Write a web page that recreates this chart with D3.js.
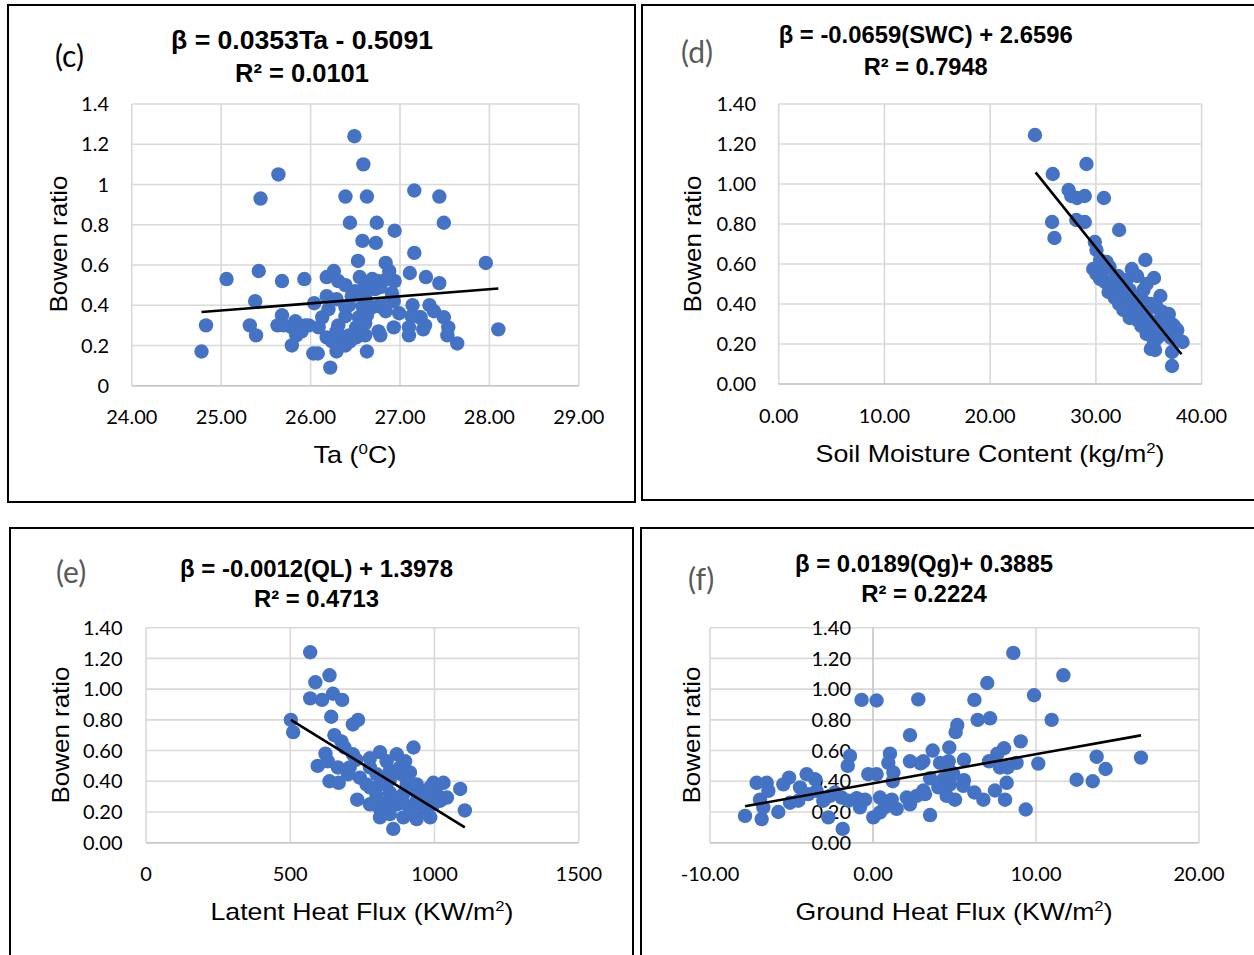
<!DOCTYPE html>
<html><head><meta charset="utf-8">
<script src="https://cdn.jsdelivr.net/npm/d3@7"></script>
<style>body{margin:0;background:#fff}svg{display:block}</style>
</head><body>
<svg id="chart" width="1254" height="955"></svg>
<script>
// ---------- data ----------
const bowenTicks = [0, 0.2, 0.4, 0.6, 0.8, 1.0, 1.2, 1.4];
const taTicks = [24, 25, 26, 27, 28, 29];
const swcTicks = [0, 10, 20, 30, 40];
const qlTicks = [0, 500, 1000, 1500];
const qgTicks = [-10, 0, 10, 20];

// (c) Ta vs Bowen ratio
const pointsTa = [[26.49,1.24],[26.59,1.10],[25.64,1.05],[25.44,0.93],[26.39,0.94],[26.63,0.94],[27.16,0.97],[27.44,0.94],[26.44,0.81],[26.74,0.81],[27.49,0.81],[26.94,0.77],[26.58,0.72],[26.73,0.71],[27.16,0.66],[27.96,0.61],[26.53,0.62],[25.06,0.53],[25.42,0.57],[25.68,0.52],[25.93,0.53],[26.18,0.54],[26.26,0.57],[26.31,0.52],[26.39,0.50],[26.55,0.54],[26.61,0.50],[26.75,0.52],[26.84,0.61],[26.88,0.57],[26.94,0.52],[27.11,0.56],[27.29,0.54],[27.44,0.51],[26.72,0.48],[26.91,0.46],[26.50,0.47],[26.46,0.445],[26.18,0.445],[26.04,0.41],[25.38,0.42],[26.93,0.42],[27.14,0.40],[27.33,0.40],[27.38,0.37],[26.58,0.395],[26.69,0.39],[26.84,0.37],[26.99,0.36],[27.22,0.34],[27.49,0.34],[26.39,0.345],[26.13,0.34],[25.83,0.32],[25.68,0.35],[25.63,0.30],[25.32,0.30],[25.39,0.25],[24.83,0.30],[24.78,0.17],[25.79,0.29],[25.98,0.30],[26.09,0.29],[25.84,0.25],[25.79,0.20],[26.03,0.16],[26.08,0.16],[26.22,0.09],[26.18,0.24],[26.29,0.17],[26.39,0.20],[26.43,0.25],[26.51,0.29],[26.61,0.25],[26.63,0.17],[26.76,0.27],[26.78,0.25],[26.93,0.29],[27.10,0.29],[27.10,0.25],[27.23,0.34],[27.26,0.28],[27.54,0.29],[27.53,0.25],[27.64,0.21],[28.10,0.28],[26.31,0.30],[26.35,0.24],[26.24,0.22],[26.44,0.22],[26.51,0.24],[26.63,0.35],[26.76,0.395],[26.29,0.43],[26.61,0.44],[26.84,0.40],[26.43,0.40],[26.20,0.38],[25.94,0.30],[25.70,0.30],[25.90,0.27],[26.29,0.27],[27.13,0.345],[27.28,0.30],[26.69,0.53],[26.78,0.49],[26.85,0.53],[26.39,0.39],[26.54,0.34],[26.61,0.31]];
const trendTa = [[24.78,0.366],[28.10,0.483]];

// (d) Soil moisture vs Bowen ratio
const pointsSwc = [[24.24,1.245],[25.92,1.05],[29.11,1.10],[27.42,0.97],[27.67,0.94],[28.22,0.93],[28.95,0.94],[30.76,0.93],[25.86,0.81],[26.08,0.73],[28.15,0.82],[28.95,0.81],[32.2,0.77],[29.9,0.71],[30.06,0.67],[34.68,0.62],[29.75,0.575],[30.06,0.55],[31.02,0.61],[30.7,0.57],[33.4,0.575],[33.9,0.54],[35.5,0.53],[32.1,0.54],[30.86,0.51],[31.34,0.48],[32.3,0.49],[36.1,0.44],[32.2,0.40],[32.8,0.44],[33.2,0.40],[33.9,0.38],[34.4,0.42],[34.8,0.375],[35.2,0.40],[35.8,0.38],[36.9,0.35],[34.2,0.33],[34.3,0.29],[35.0,0.32],[35.5,0.29],[36.1,0.325],[37.4,0.29],[37.7,0.27],[38.2,0.21],[35.2,0.175],[35.6,0.17],[37.2,0.16],[37.2,0.09],[35.8,0.23],[36.4,0.25],[37.1,0.23],[35.5,0.21],[31.66,0.52],[30.4,0.525],[31.2,0.46],[31.8,0.43],[32.5,0.47],[33.2,0.47],[33.6,0.43],[34.5,0.47],[34.8,0.50],[32.9,0.52],[33.6,0.37],[34.7,0.35],[36.3,0.36],[36.75,0.32],[37.2,0.30],[37.7,0.23],[36.6,0.27],[34.8,0.25],[35.3,0.26],[35.8,0.28],[33.9,0.32],[33.2,0.33],[32.6,0.37],[31.3,0.585],[30.4,0.62]];
const trendSwc = [[24.3,1.058],[38.1,0.149]];

// (e) Latent heat flux vs Bowen ratio
const pointsQl = [[569,1.24],[587,1.045],[636,1.09],[569,0.94],[610,0.93],[648,0.97],[680,0.93],[502,0.80],[510,0.72],[642,0.82],[717,0.77],[735,0.80],[653,0.70],[677,0.66],[688,0.62],[717,0.576],[622,0.58],[595,0.50],[630,0.53],[636,0.40],[668,0.39],[665,0.49],[700,0.446],[732,0.28],[776,0.55],[811,0.59],[869,0.576],[927,0.62],[898,0.53],[834,0.53],[915,0.457],[886,0.446],[776,0.49],[799,0.446],[741,0.424],[764,0.38],[811,0.38],[845,0.41],[996,0.39],[1031,0.39],[1089,0.35],[1105,0.21],[1043,0.294],[1008,0.316],[973,0.338],[938,0.327],[892,0.316],[845,0.327],[799,0.305],[776,0.25],[811,0.22],[811,0.165],[857,0.09],[892,0.165],[938,0.154],[985,0.165],[845,0.186],[915,0.22],[962,0.22],[996,0.25],[1020,0.273],[834,0.26],[869,0.25],[892,0.26],[938,0.273],[962,0.294],[857,0.294],[776,0.36],[729,0.54],[706,0.49],[845,0.468],[880,0.49],[822,0.41],[904,0.38],[938,0.38],[985,0.36]];
const trendQl = [[502,0.80],[1105,0.10]];

// (f) Ground heat flux vs Bowen ratio
const pointsQg = [[8.61,1.236],[11.68,1.09],[7.01,1.04],[9.88,0.96],[-0.70,0.93],[0.22,0.926],[2.78,0.933],[6.22,0.93],[10.96,0.80],[6.42,0.80],[7.18,0.81],[5.17,0.766],[5.07,0.72],[2.27,0.70],[9.06,0.66],[3.66,0.60],[4.68,0.62],[8.04,0.615],[7.63,0.58],[16.44,0.554],[13.72,0.56],[14.27,0.48],[12.49,0.41],[13.48,0.40],[10.14,0.515],[9.37,0.216],[8.81,0.52],[8.26,0.49],[7.12,0.53],[5.58,0.54],[2.92,0.517],[4.11,0.52],[4.64,0.53],[1.04,0.58],[0.94,0.52],[1.25,0.457],[-0.29,0.446],[0.22,0.446],[-1.41,0.565],[-1.55,0.50],[1.21,0.40],[3.50,0.42],[4.32,0.413],[4.93,0.446],[5.58,0.407],[8.20,0.39],[6.22,0.327],[6.77,0.28],[7.48,0.34],[8.10,0.28],[5.03,0.28],[4.52,0.305],[3.09,0.34],[3.50,0.18],[2.27,0.25],[1.45,0.22],[1.15,0.28],[0.43,0.294],[0.43,0.197],[0.02,0.165],[-0.49,0.28],[-1.0,0.29],[-1.86,0.09],[-1.92,0.294],[-2.33,0.327],[-2.74,0.165],[-3.05,0.273],[-3.56,0.413],[-4.07,0.446],[-4.48,0.36],[-5.15,0.424],[-5.5,0.38],[-5.09,0.26],[-5.81,0.20],[-6.52,0.39],[-7.14,0.39],[-6.42,0.338],[-6.93,0.28],[-6.83,0.154],[-7.85,0.175],[-6.73,0.23],[-3.97,0.316],[-4.58,0.273],[-3.46,0.338],[-2.64,0.305],[-1.51,0.273],[2.07,0.294],[2.68,0.305],[4.01,0.36],[4.72,0.38],[5.54,0.37],[2.27,0.53],[3.19,0.316],[0.72,0.23],[-0.80,0.23],[4.72,0.468],[3.09,0.53],[7.79,0.49]];
const trendQg = [[-7.85,0.237],[16.44,0.699]];

const equations = ["β = 0.0353Ta - 0.5091", "β = -0.0659(SWC) + 2.6596", "β = -0.0012(QL) + 1.3978", "β = 0.0189(Qg)+ 0.3885"];
const rSquared = ["R² = 0.0101", "R² = 0.7948", "R² = 0.4713", "R² = 0.2224"];
const panelLabels = ["(c)", "(d)", "(e)", "(f)"];
const yTitle = "Bowen ratio";

// ---------- layout ----------
const svg = d3.select("#chart");
const BLUE = "#4472C4", GRID = "#d9d9d9";
const tickFont = "Lato, 'Open Sans', sans-serif";
const titleFont = "'Liberation Sans', Arial, sans-serif";
const hyphen = f => d => f(d).replace("\u2212", "-");

const panels = [
  {pts: pointsTa, trend: trendTa, box:[8,5,627,497], plot:{l:131.8,r:578.8,t:104,b:385.7},
   xd:[24,29], xt:taTicks, xf:d3.format(".2f"), yf:d=>String(+d.toFixed(1)),
   xtickY:424, ylabR:109, eqX:302, eqY:[49.3,81.7], eqW:[262,134], eqS:25,
   lab:{x:55,y:67,c:"#000"}, yT:{x:67,y:244}, xT:{x:355,y:463,w:83}, xTitle:["Ta (","0","C)"]},
  {pts: pointsSwc, trend: trendSwc, box:[642,5,640,495], plot:{l:778.7,r:1201.6,t:104,b:384},
   xd:[0,40], xt:swcTicks, xf:d3.format(".2f"), yf:d3.format(".2f"),
   xtickY:423, ylabR:756, eqX:925.7, eqY:[43.3,75], eqW:[294,124], eqS:23.5,
   lab:{x:681,y:63,c:"#595959"}, yT:{x:701,y:244}, xT:{x:990,y:462,w:349}, xTitle:["Soil Moisture Content (kg/m","2",")"]},
  {pts: pointsQl, trend: trendQl, box:[10,528,623,440], plot:{l:146,r:578.8,t:627.7,b:842.7},
   xd:[0,1500], xt:qlTicks, xf:d3.format("d"), yf:d3.format(".2f"),
   xtickY:881, ylabR:122.5, eqX:316.5, eqY:[577.3,607.3], eqW:[273,125], eqS:23.5,
   lab:{x:56,y:583,c:"#595959"}, yT:{x:69,y:735}, xT:{x:362,y:920,w:303}, xTitle:["Latent Heat Flux (KW/m","2",")"]},
  {pts: pointsQg, trend: trendQg, box:[641,528,620,440], plot:{l:710,r:1199,t:627.7,b:842.7},
   xd:[-10,20], xt:qgTicks, xf:hyphen(d3.format(".2f")), yf:d3.format(".2f"),
   xtickY:881, ylabR:851, eqX:924, eqY:[572.3,601.7], eqW:[258,125.5], eqS:23.5,
   lab:{x:688,y:590,c:"#595959"}, yT:{x:700,y:735}, xT:{x:954,y:920,w:317}, xTitle:["Ground Heat Flux (KW/m","2",")"], yAxisAt0:true}
];

panels.forEach((p, i) => {
  const g = svg.append("g");
  g.append("rect").attr("x",p.box[0]).attr("y",p.box[1]).attr("width",p.box[2]).attr("height",p.box[3])
    .attr("fill","#fff").attr("stroke","#000").attr("stroke-width",2);

  const x = d3.scaleLinear().domain(p.xd).range([p.plot.l, p.plot.r]);
  const y = d3.scaleLinear().domain([0,1.4]).range([p.plot.b, p.plot.t]);

  // grid
  g.append("g").selectAll("line").data(bowenTicks).join("line")
    .attr("x1",p.plot.l).attr("x2",p.plot.r).attr("y1",d=>y(d)).attr("y2",d=>y(d))
    .attr("stroke",GRID).attr("stroke-width",1.6);
  g.append("g").selectAll("line").data(p.xt).join("line")
    .attr("y1",p.plot.t).attr("y2",p.plot.b).attr("x1",d=>x(d)).attr("x2",d=>x(d))
    .attr("stroke",d=> (p.yAxisAt0 && d===0) ? "#c6c6c6" : GRID).attr("stroke-width",1.6);
  g.append("line").attr("x1",p.plot.l).attr("x2",p.plot.r).attr("y1",y(0)).attr("y2",y(0))
    .attr("stroke","#c6c6c6").attr("stroke-width",1.6);

  // tick labels
  g.append("g").selectAll("text").data(p.xt).join("text")
    .attr("x",d=>x(d)).attr("y",p.xtickY).attr("text-anchor","middle")
    .attr("font-family",tickFont).attr("font-size",20).attr("fill","#000").text(p.xf);
  g.append("g").selectAll("text").data(bowenTicks).join("text")
    .attr("x",p.ylabR).attr("y",d=>y(d)+7.2).attr("text-anchor","end")
    .attr("font-family",tickFont).attr("font-size",20).attr("fill","#000").text(p.yf);

  // points
  g.append("g").selectAll("circle").data(p.pts).join("circle")
    .attr("cx",d=>x(d[0])).attr("cy",d=>y(d[1])).attr("r",7.2).attr("fill",BLUE);

  // trend line
  g.append("path").datum(p.trend)
    .attr("d", d3.line().x(d=>x(d[0])).y(d=>y(d[1])))
    .attr("stroke","#000").attr("stroke-width",2.6).attr("fill","none");

  // equations
  [equations[i], rSquared[i]].forEach((t, k) => {
    g.append("text").attr("x",p.eqX).attr("y",p.eqY[k]).attr("text-anchor","middle")
      .attr("font-family",titleFont).attr("font-weight","bold").attr("font-size",p.eqS)
      .attr("textLength",p.eqW[k]).attr("lengthAdjust","spacingAndGlyphs").text(t);
  });

  // panel label
  g.append("text").attr("x",p.lab.x).attr("y",p.lab.y).attr("font-family",tickFont)
    .attr("font-size",30).attr("fill",p.lab.c).text(panelLabels[i]);

  // y title
  g.append("text").attr("transform",`translate(${p.yT.x},${p.yT.y}) rotate(-90)`)
    .attr("text-anchor","middle").attr("font-family",titleFont).attr("font-size",24)
    .attr("textLength",137).attr("lengthAdjust","spacingAndGlyphs").text(yTitle);

  // x title with superscript
  const xt = g.append("text").attr("x",p.xT.x).attr("y",p.xT.y).attr("text-anchor","middle")
    .attr("font-family",titleFont).attr("font-size",24)
    .attr("textLength",p.xT.w).attr("lengthAdjust","spacingAndGlyphs");
  xt.append("tspan").text(p.xTitle[0]);
  xt.append("tspan").attr("dy",-9).attr("font-size",15).text(p.xTitle[1]);
  xt.append("tspan").attr("dy",9).text(p.xTitle[2]);
});
</script>
</body></html>
